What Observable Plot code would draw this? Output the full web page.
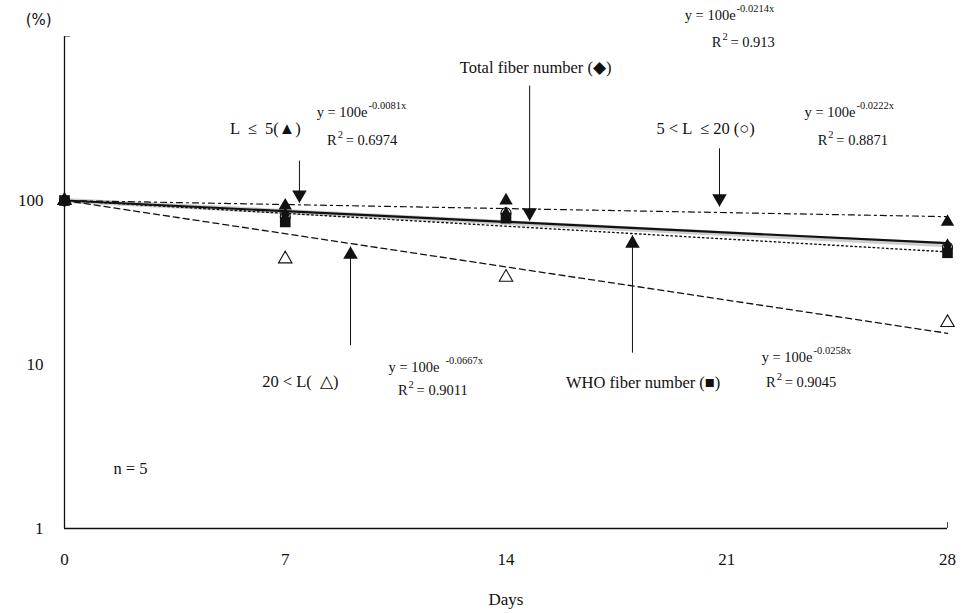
<!DOCTYPE html>
<html><head><meta charset="utf-8">
<script src="https://cdn.jsdelivr.net/npm/d3@7"></script>
<script src="https://cdn.jsdelivr.net/npm/@observablehq/plot@0.6"></script>
<style>body{margin:0;background:#fff}</style></head>
<body><div id="chart"></div>
<script>
// ---- data ----
const days = [0, 7, 14, 28];
const xTicks = [0, 7, 14, 21, 28];
const yTicks = [1, 10, 100];

const shortPct = [100, 93, 100, 74];   // L ≤ 5 (▲)
const midPct   = [100, 80, 84, 52];    // 5 < L ≤ 20 (○)
const longPct  = [100, 44, 34, 18];    // 20 < L (△)
const totalPct = [100, 82, 83, 53];    // Total fiber number (◆)
const whoPct   = [100, 74, 78, 48];    // WHO fiber number (■)

// fitted trend lines (straight on log axis): value at day 0 and day 28
const trendDays = [0, 28];
const trendShort = [100, 79.7];
const trendTotal = [100, 54.9];
const trendMid   = [100, 53.7];
const trendLong  = [100, 15.5];
const trendWho   = [100, 48.6];

// annotation labels
const labelText = ["L  ≤  5(▲)", "Total fiber number (◆)", "5 < L  ≤ 20 (○)", "20 < L(  △)", "WHO fiber number (■)", "n = 5"];
const labelDay  = [6.37, 14.94, 20.33, 7.48, 18.35, 2.09];
const labelPct  = [275, 647, 275, 7.88, 7.77, 2.32];

// arrows
const arrowDay  = [7.45, 14.75, 20.77, 9.07, 18.01];
const arrowFrom = [175, 502, 208, 13.1, 11.8];
const arrowTo   = [97, 75.5, 92, 52.4, 61.2];

// equations
const eqExp  = ["-0.0081x", "-0.0214x", "-0.0222x", "-0.0667x", "-0.0258x"];
const eqR2   = ["= 0.6974", "= 0.913", "= 0.8871", "= 0.9011", "= 0.9045"];
const eqDay  = [9.61, 21.28, 25.08, 11.89, 23.72];
const eqPct  = [344, 1343, 344, 9.59, 11.0];
const r2Day  = [8.63, 20.83, 24.19, 10.88, 22.55];
const r2Pct  = [232, 919, 232, 6.94, 7.77];

// ---- tables ----
const series = (vals) => days.map((d, i) => ({day: d, pct: vals[i]}));
const trend = (vals) => trendDays.map((d, i) => ({day: d, pct: vals[i]}));
const labels = labelText.map((t, i) => ({t, day: labelDay[i], pct: labelPct[i]}));
const arrows = arrowDay.map((d, i) => ({day: d, from: arrowFrom[i], to: arrowTo[i]}));
const eqs = eqExp.map((e, i) => ({e, r2: eqR2[i], day: eqDay[i], pct: eqPct[i], rday: r2Day[i], rpct: r2Pct[i], wide: i === 3}));

const ink = "#111";
const serif = "Liberation Serif, Times New Roman, serif";

const chart = Plot.plot({
  width: 970, height: 613,
  marginLeft: 64, marginRight: 23, marginTop: 36, marginBottom: 85,
  style: {fontFamily: serif, fontSize: "17px", color: ink, background: "#fff"},
  x: {domain: [0, 28]},
  y: {type: "log", domain: [1, 1000]},
  marks: [
    // axes labels
    Plot.axisX({ticks: xTicks, tickSize: 0, tickPadding: 24, fontSize: 17, label: null, tickFormat: d3.format("d")}),
    Plot.axisY({ticks: yTicks, tickSize: 0, tickPadding: 21, fontSize: 17, label: null, tickFormat: d3.format("d")}),
    Plot.axisX({ticks: [28], tickSize: -6, tickFormat: () => "", label: null, stroke: "#444"}),
    Plot.axisY({ticks: [1000], tickSize: -6, tickFormat: () => "", label: null, stroke: "#888"}),
    Plot.ruleX([0], {y1: 1, y2: 1000, stroke: ink, strokeWidth: 1.3}),
    Plot.ruleY([1], {x1: 0, x2: 28, stroke: ink, strokeWidth: 1.3}),
    Plot.text(["(%)"], {x: -0.82, y: 1252, text: d => d, fontSize: 15, fill: ink, fontFamily: "DejaVu Sans, sans-serif"}),
    Plot.text(["Days"], {x: 14, y: 0.369, text: d => d, fontSize: 17, fill: ink}),

    // trend lines
    Plot.line(trend(trendMid), {x: "day", y: "pct", stroke: "#bdbdbd", strokeWidth: 5, strokeOpacity: 0.75}),
    Plot.line(trend(trendShort), {x: "day", y: "pct", stroke: ink, strokeWidth: 1.2, strokeDasharray: "6,4,2,4"}),
    Plot.line(trend(trendWho), {x: "day", y: "pct", stroke: ink, strokeWidth: 1.4, strokeDasharray: "1.5,3"}),
    Plot.line(trend(trendLong), {x: "day", y: "pct", stroke: ink, strokeWidth: 1.3, strokeDasharray: "6,4"}),
    Plot.line(trend(trendTotal), {x: "day", y: "pct", stroke: ink, strokeWidth: 2.2}),

    // points
    Plot.dot(series(longPct), {x: "day", y: "pct", symbol: "triangle", r: 5, fill: "white", stroke: ink, strokeWidth: 1.1}),
    Plot.dot(series(midPct), {x: "day", y: "pct", symbol: "circle", r: 5, fill: "white", stroke: ink, strokeWidth: 1.1}),
    Plot.dot(series(totalPct), {x: "day", y: "pct", symbol: "diamond", r: 4.5, fill: ink, stroke: "none"}),
    Plot.dot(series(whoPct), {x: "day", y: "pct", symbol: "square", r: 6, fill: ink, stroke: "none"}),
    Plot.dot(series(shortPct), {x: "day", y: "pct", symbol: "triangle", r: 5, fill: ink, stroke: "none"}),

    // arrows
    Plot.link(arrows, {x1: "day", x2: "day", y1: "from", y2: "to", stroke: ink, strokeWidth: 1}),
    Plot.dot(arrows.filter(a => a.from > a.to), {x: "day", y: "to", symbol: "triangle", r: 5.4, rotate: 180, dy: -8, fill: ink, stroke: "none"}),
    Plot.dot(arrows.filter(a => a.from < a.to), {x: "day", y: "to", symbol: "triangle", r: 5.4, dy: 8, fill: ink, stroke: "none"}),

    // labels
    Plot.text(labels, {x: "day", y: "pct", text: "t", fontSize: 16.5, fill: ink}),

    // equations
    Plot.text(eqs, {x: "day", y: "pct", text: () => "y = 100e", textAnchor: "end", fontSize: 14.5, fill: ink}),
    Plot.text(eqs.filter(d => !d.wide), {x: "day", y: "pct", text: "e", textAnchor: "start", dx: 1, dy: -7, fontSize: 10.5, fill: ink}),
    Plot.text(eqs.filter(d => d.wide), {x: "day", y: "pct", text: "e", textAnchor: "start", dx: 6, dy: -7, fontSize: 10.5, fill: ink}),
    Plot.text(eqs, {x: "rday", y: "rpct", text: () => "R", textAnchor: "end", fontSize: 14.5, fill: ink}),
    Plot.text(eqs, {x: "rday", y: "rpct", text: () => "2", textAnchor: "start", dx: 1, dy: -6, fontSize: 10.5, fill: ink}),
    Plot.text(eqs, {x: "rday", y: "rpct", text: "r2", textAnchor: "start", dx: 9, fontSize: 14.5, fill: ink})
  ]
});
document.getElementById("chart").appendChild(chart);
</script>
</body></html>
